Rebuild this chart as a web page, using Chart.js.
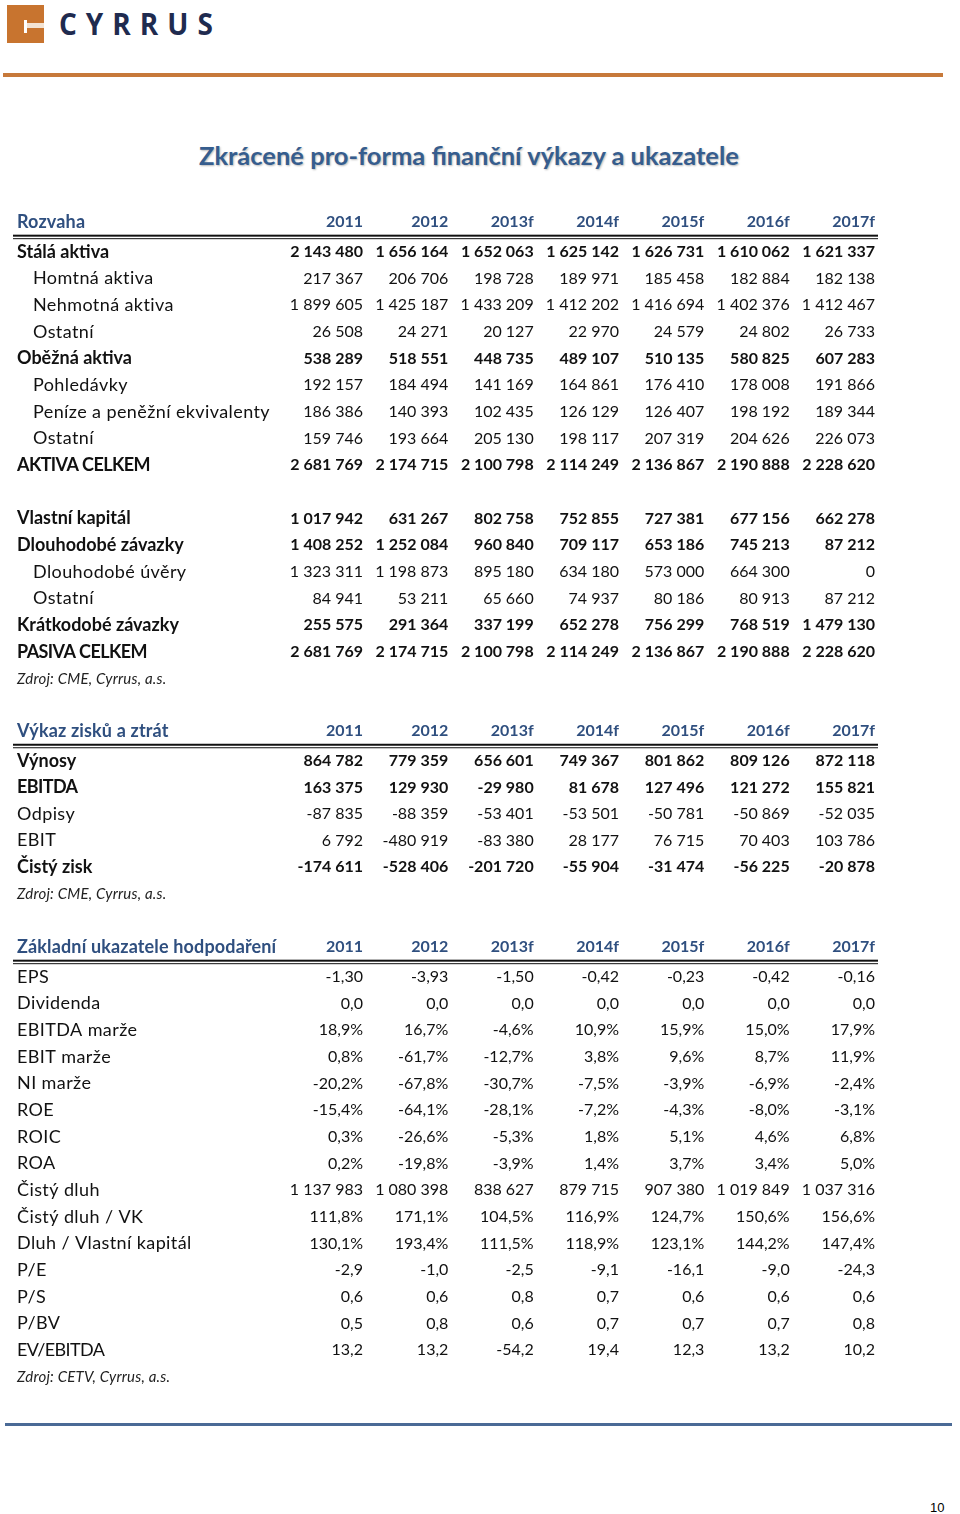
<!DOCTYPE html>
<html><head><meta charset="utf-8">
<script src="https://cdn.jsdelivr.net/npm/chart.js@4.4.1/dist/chart.umd.min.js"></script>
<style>
html,body{margin:0;padding:0;background:#fff;width:960px;height:1514px;overflow:hidden;font-family:Lato,sans-serif}
#page{position:relative;width:960px;height:1514px}
canvas{position:absolute;left:0}
#sq{position:absolute;left:7px;top:5px;width:37px;height:38px;background:#c8742f}
#sq .v{position:absolute;left:17px;top:15px;width:3px;height:13px;background:#fff}
#sq .h{position:absolute;left:20px;top:18px;width:17px;height:5px;background:#f3e3d3}
#brand{position:absolute;left:59px;top:3px;font:bold 28px "Open Sans",sans-serif;color:#1f2b4f;letter-spacing:9px;transform:scaleY(1.08);transform-origin:left top}
#oline{position:absolute;left:3px;top:73px;width:940px;height:4px;background:#c7793a}
#title{position:absolute;left:199px;top:140px;font:bold 25.5px Lato,sans-serif;color:#365d8e;text-shadow:1px 1px 2px rgba(0,0,0,0.28);white-space:nowrap}
#bline{position:absolute;left:5px;top:1423px;width:947px;height:3px;background:#4a6a96}
#pnum{position:absolute;left:930px;top:1500px;font:13px "Liberation Sans",Arial,sans-serif;color:#000}
</style></head><body>
<div id="page">
  <div id="sq"><div class="v"></div><div class="h"></div></div>
  <div id="brand">CYRRUS</div>
  <div id="oline"></div>
  <div id="title">Zkrácené pro-forma finanční výkazy a ukazatele</div>
  <canvas id="t1" width="960" height="500" style="top:200px"></canvas>
  <canvas id="t2" width="960" height="200" style="top:710px"></canvas>
  <canvas id="t3" width="960" height="470" style="top:925px"></canvas>
  <div id="bline"></div>
  <div id="pnum">10</div>
</div>
<script>
// ---------- DATA ----------
const years = ['2011','2012','2013f','2014f','2015f','2016f','2017f'];

// Rozvaha
const staleAktiva      = [2143480, 1656164, 1652063, 1625142, 1626731, 1610062, 1621337];
const hmotnaAktiva     = [217367, 206706, 198728, 189971, 185458, 182884, 182138];
const nehmotnaAktiva   = [1899605, 1425187, 1433209, 1412202, 1416694, 1402376, 1412467];
const ostatniStala     = [26508, 24271, 20127, 22970, 24579, 24802, 26733];
const obeznaAktiva     = [538289, 518551, 448735, 489107, 510135, 580825, 607283];
const pohledavky       = [192157, 184494, 141169, 164861, 176410, 178008, 191866];
const penize           = [186386, 140393, 102435, 126129, 126407, 198192, 189344];
const ostatniObezna    = [159746, 193664, 205130, 198117, 207319, 204626, 226073];
const aktivaCelkem     = [2681769, 2174715, 2100798, 2114249, 2136867, 2190888, 2228620];
const vlastniKapital   = [1017942, 631267, 802758, 752855, 727381, 677156, 662278];
const dlouhodobeZav    = [1408252, 1252084, 960840, 709117, 653186, 745213, 87212];
const dlouhodobeUvery  = [1323311, 1198873, 895180, 634180, 573000, 664300, 0];
const ostatniDlouhodobe= [84941, 53211, 65660, 74937, 80186, 80913, 87212];
const kratkodobeZav    = [255575, 291364, 337199, 652278, 756299, 768519, 1479130];
const pasivaCelkem     = [2681769, 2174715, 2100798, 2114249, 2136867, 2190888, 2228620];

// Výkaz zisků a ztrát
const vynosy   = [864782, 779359, 656601, 749367, 801862, 809126, 872118];
const ebitda   = [163375, 129930, -29980, 81678, 127496, 121272, 155821];
const odpisy   = [-87835, -88359, -53401, -53501, -50781, -50869, -52035];
const ebit     = [6792, -480919, -83380, 28177, 76715, 70403, 103786];
const cistyZisk= [-174611, -528406, -201720, -55904, -31474, -56225, -20878];

// Základní ukazatele
const eps        = [-1.30, -3.93, -1.50, -0.42, -0.23, -0.42, -0.16];
const dividenda  = [0.0, 0.0, 0.0, 0.0, 0.0, 0.0, 0.0];
const ebitdaMarze= [18.9, 16.7, -4.6, 10.9, 15.9, 15.0, 17.9];
const ebitMarze  = [0.8, -61.7, -12.7, 3.8, 9.6, 8.7, 11.9];
const niMarze    = [-20.2, -67.8, -30.7, -7.5, -3.9, -6.9, -2.4];
const roe        = [-15.4, -64.1, -28.1, -7.2, -4.3, -8.0, -3.1];
const roic       = [0.3, -26.6, -5.3, 1.8, 5.1, 4.6, 6.8];
const roa        = [0.2, -19.8, -3.9, 1.4, 3.7, 3.4, 5.0];
const cistyDluh  = [1137983, 1080398, 838627, 879715, 907380, 1019849, 1037316];
const dluhVK     = [111.8, 171.1, 104.5, 116.9, 124.7, 150.6, 156.6];
const dluhKapital= [130.1, 193.4, 111.5, 118.9, 123.1, 144.2, 147.4];
const pe         = [-2.9, -1.0, -2.5, -9.1, -16.1, -9.0, -24.3];
const ps         = [0.6, 0.6, 0.8, 0.7, 0.6, 0.6, 0.6];
const pbv        = [0.5, 0.8, 0.6, 0.7, 0.7, 0.7, 0.8];
const evEbitda   = [13.2, 13.2, -54.2, 19.4, 12.3, 13.2, 10.2];

// ---------- TABLE DEFINITIONS (label, values, style, format) ----------
const table1 = [
  ['Stálá aktiva', staleAktiva, 'b', 'int'],
  ['Homtná aktiva', hmotnaAktiva, 'i', 'int'],
  ['Nehmotná aktiva', nehmotnaAktiva, 'i', 'int'],
  ['Ostatní', ostatniStala, 'i', 'int'],
  ['Oběžná aktiva', obeznaAktiva, 'b', 'int'],
  ['Pohledávky', pohledavky, 'i', 'int'],
  ['Peníze a peněžní ekvivalenty', penize, 'i', 'int'],
  ['Ostatní', ostatniObezna, 'i', 'int'],
  ['AKTIVA CELKEM', aktivaCelkem, 'b', 'int'],
  ['', null, 'n', 'int'],
  ['Vlastní kapitál', vlastniKapital, 'b', 'int'],
  ['Dlouhodobé závazky', dlouhodobeZav, 'b', 'int'],
  ['Dlouhodobé úvěry', dlouhodobeUvery, 'i', 'int'],
  ['Ostatní', ostatniDlouhodobe, 'i', 'int'],
  ['Krátkodobé závazky', kratkodobeZav, 'b', 'int'],
  ['PASIVA CELKEM', pasivaCelkem, 'b', 'int']
];
const table2 = [
  ['Výnosy', vynosy, 'b', 'int'],
  ['EBITDA', ebitda, 'b', 'int'],
  ['Odpisy', odpisy, 'n', 'int'],
  ['EBIT', ebit, 'n', 'int'],
  ['Čistý zisk', cistyZisk, 'b', 'int']
];
const table3 = [
  ['EPS', eps, 'n', 'd2'],
  ['Dividenda', dividenda, 'n', 'd1'],
  ['EBITDA marže', ebitdaMarze, 'n', 'pct'],
  ['EBIT marže', ebitMarze, 'n', 'pct'],
  ['NI marže', niMarze, 'n', 'pct'],
  ['ROE', roe, 'n', 'pct'],
  ['ROIC', roic, 'n', 'pct'],
  ['ROA', roa, 'n', 'pct'],
  ['Čistý dluh', cistyDluh, 'n', 'int'],
  ['Čistý dluh / VK', dluhVK, 'n', 'pct'],
  ['Dluh / Vlastní kapitál', dluhKapital, 'n', 'pct'],
  ['P/E', pe, 'n', 'd1'],
  ['P/S', ps, 'n', 'd1'],
  ['P/BV', pbv, 'n', 'd1'],
  ['EV/EBITDA', evEbitda, 'n', 'd1']
];

// ---------- RENDERING ----------
const FONT = 'Lato, sans-serif';
const LABEL_SIZE = 18;
const NUM_SIZE = 16;
const HEAD_COLOR = '#2f4f7f';
const TEXT_COLOR = '#111';

function fmt(v, f){
  if (f === 'int'){
    const s = String(Math.abs(v)).replace(/\B(?=(\d{3})+(?!\d))/g, ' ');
    return (v < 0 ? '-' : '') + s;
  }
  if (f === 'd2') return v.toFixed(2).replace('.', ',');
  if (f === 'd1') return v.toFixed(1).replace('.', ',');
  if (f === 'pct') return v.toFixed(1).replace('.', ',') + '%';
  return String(v);
}

const tablePlugin = {
  id: 'finTable',
  afterDraw(chart, args, opts){
    const ctx = chart.ctx, xs = chart.scales.x, ys = chart.scales.y, area = chart.chartArea;
    const half = (xs.getPixelForValue(1) - xs.getPixelForValue(0)) / 2;
    const left = 17;
    ctx.save();
    ctx.textBaseline = 'middle';
    // header row
    const hy = area.top - 16.5;
    ctx.fillStyle = HEAD_COLOR;
    ctx.font = 'bold ' + LABEL_SIZE + 'px ' + FONT;
    ctx.letterSpacing = '0.15px';
    ctx.textAlign = 'left';
    ctx.fillText(opts.title, left, hy);
    ctx.letterSpacing = '0px';
    ctx.font = 'bold ' + NUM_SIZE + 'px ' + FONT;
    ctx.textAlign = 'right';
    years.forEach((yr, i) => ctx.fillText(yr, xs.getPixelForValue(i) + half, hy));
    // double rule
    ctx.fillStyle = '#111';
    ctx.fillRect(13, area.top - 4, xs.right + 3 - 13, 2);
    ctx.fillRect(13, area.top - 0.5, xs.right + 3 - 13, 1);
    // rows
    opts.rows.forEach((row, r) => {
      const [label, vals, style, f] = row;
      const y = ys.getPixelForValue(r);
      const bold = style === 'b';
      const caps = label.length > 4 && label === label.toUpperCase();
      ctx.fillStyle = TEXT_COLOR;
      ctx.font = (bold ? 'bold ' : '') + LABEL_SIZE + 'px ' + FONT;
      ctx.letterSpacing = caps ? '-0.6px' : (bold ? '0px' : '0.4px');
      ctx.textAlign = 'left';
      ctx.fillText(label, style === 'i' ? 33 : left, y);
      ctx.letterSpacing = '0px';
      if (!vals) return;
      ctx.font = (bold ? 'bold ' : '') + NUM_SIZE + 'px ' + FONT;
      ctx.textAlign = 'right';
      vals.forEach((v, i) => ctx.fillText(fmt(v, f), xs.getPixelForValue(i) + half, y));
    });
    // source
    ctx.fillStyle = '#222';
    ctx.font = 'italic 15px ' + FONT;
    ctx.letterSpacing = '0.2px';
    ctx.textAlign = 'left';
    ctx.fillText(opts.source, left, area.bottom + 14);
    ctx.restore();
  }
};

function makeTable(id, title, rows, source, padTop, padBottom){
  new Chart(document.getElementById(id), {
    type: 'line',
    data: { labels: years, datasets: [] },
    plugins: [tablePlugin],
    options: {
      responsive: false,
      animation: false,
      devicePixelRatio: 1,
      layout: { padding: { left: 277.67, right: 85, top: padTop, bottom: padBottom } },
      plugins: {
        legend: { display: false },
        tooltip: { enabled: false },
        finTable: { title, rows, source }
      },
      scales: {
        x: { type: 'category', labels: years, offset: true, display: false },
        y: { type: 'category', labels: rows.map(r => r[0]), offset: true, display: false }
      }
    }
  });
}

makeTable('t1', 'Rozvaha', table1, 'Zdroj: CME, Cyrrus, a.s.', 38.67, 34.67);
makeTable('t2', 'Výkaz zisků a ztrát', table2, 'Zdroj: CME, Cyrrus, a.s.', 37.75, 29.75);
makeTable('t3', 'Základní ukazatele hodpodaření', table3, 'Zdroj: CETV, Cyrrus, a.s.', 38.68, 31.68);
</script>
</body></html>
